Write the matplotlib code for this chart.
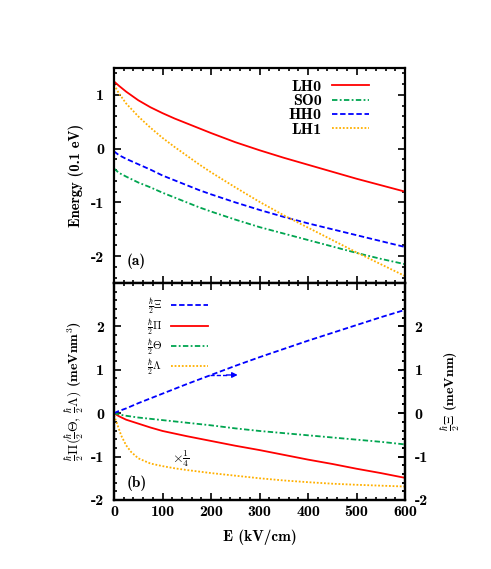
import matplotlib
matplotlib.use('Agg')
import matplotlib.pyplot as plt
from matplotlib.ticker import MultipleLocator

# Font setup (Computer Modern bold look)
plt.rcParams['font.family'] = ['cmb10', 'DejaVu Serif']
plt.rcParams['mathtext.fontset'] = 'cm'
plt.rcParams['axes.unicode_minus'] = False
plt.rcParams['font.size'] = 10

# ---- Panel (a): subband energies (0.1 eV) ----
field_a = [0, 10, 25, 50, 75, 100, 125, 150, 175, 200, 250, 300, 350, 400, 450, 500, 550, 600]
lh0 = [1.25, 1.17, 1.06, 0.90, 0.77, 0.66, 0.56, 0.47, 0.38, 0.29, 0.12, -0.03, -0.17, -0.30, -0.43, -0.56, -0.68, -0.80]
so0 = [-0.37, -0.45, -0.52, -0.63, -0.72, -0.82, -0.91, -1.00, -1.09, -1.17, -1.32, -1.46, -1.58, -1.70, -1.82, -1.94, -2.05, -2.15]
hh0 = [-0.05, -0.12, -0.19, -0.29, -0.39, -0.50, -0.59, -0.68, -0.77, -0.85, -1.00, -1.14, -1.27, -1.39, -1.50, -1.61, -1.72, -1.83]
lh1 = [1.19, 1.03, 0.84, 0.60, 0.39, 0.20, 0.03, -0.13, -0.29, -0.44, -0.72, -0.99, -1.24, -1.47, -1.70, -1.93, -2.15, -2.37]
labels_a = ['LH0', 'SO0', 'HH0', 'LH1']

# ---- Panel (b): coupling parameters ----
field_b = [0, 10, 25, 50, 75, 100, 150, 200, 250, 300, 350, 400, 450, 500, 550, 600]
xi = [0.0, 0.05, 0.11, 0.23, 0.34, 0.45, 0.67, 0.88, 1.09, 1.29, 1.48, 1.67, 1.85, 2.03, 2.21, 2.38]
pi_ = [0.0, -0.07, -0.15, -0.24, -0.33, -0.41, -0.53, -0.64, -0.75, -0.85, -0.96, -1.07, -1.17, -1.28, -1.38, -1.49]
theta = [0.0, -0.03, -0.06, -0.10, -0.13, -0.16, -0.22, -0.28, -0.35, -0.41, -0.46, -0.51, -0.56, -0.61, -0.66, -0.72]
field_lam = [0, 5, 10, 15, 25, 35, 50, 75, 100, 125, 150, 200, 250, 300, 350, 400, 450, 500, 550, 600]
lam = [-0.05, -0.20, -0.36, -0.52, -0.74, -0.89, -1.04, -1.16, -1.22, -1.27, -1.31, -1.38, -1.44, -1.50,
       -1.55, -1.59, -1.625, -1.65, -1.67, -1.69]
labels_b = [r'$\frac{\hbar}{2}\Xi$', r'$\frac{\hbar}{2}\Pi$', r'$\frac{\hbar}{2}\Theta$', r'$\frac{\hbar}{2}\Lambda$']

c_red, c_green, c_blue, c_orange = '#ff0000', '#00a550', '#0000ff', '#ffb000'
lw = 1.3
ls_dash = (0, (3, 1.5))
ls_dashdot = (0, (3, 1.3, 1, 1.3))
ls_dot = (0, (1, 1))

fig = plt.figure(figsize=(4.91, 5.69), dpi=100)
ax1 = fig.add_axes([0.2322, 0.5026, 0.5927, 0.3779])
ax2 = fig.add_axes([0.2322, 0.1213, 0.5927, 0.3814])


def style_axis(ax):
    for s in ax.spines.values():
        s.set_linewidth(1.6)
    ax.xaxis.set_major_locator(MultipleLocator(100))
    ax.xaxis.set_minor_locator(MultipleLocator(20))
    ax.yaxis.set_major_locator(MultipleLocator(1))
    ax.yaxis.set_minor_locator(MultipleLocator(0.2))
    ax.tick_params(which='both', direction='in', top=True, right=True, width=1.2,
                   labelsize=11.5)
    ax.tick_params(axis='y', pad=7)
    ax.tick_params(which='major', length=5)
    ax.tick_params(which='minor', length=2.5)


# Panel (a)
ax1.plot(field_a, lh0, color=c_red, lw=lw, ls='-', label=labels_a[0])
ax1.plot(field_a, so0, color=c_green, lw=lw, ls=ls_dashdot, label=labels_a[1])
ax1.plot(field_a, hh0, color=c_blue, lw=lw, ls=ls_dash, label=labels_a[2])
ax1.plot(field_a, lh1, color=c_orange, lw=lw, ls=ls_dot, label=labels_a[3])
ax1.set_xlim(0, 600)
ax1.set_ylim(-2.5, 1.5)
style_axis(ax1)
ax1.tick_params(labelbottom=False)
ax1.set_ylabel('Energy (0.1 eV)', fontsize=10.5, labelpad=5)
ax1.text(25, -2.1, '(a)', fontsize=11, va='center')
leg1 = ax1.legend(loc='upper right', bbox_to_anchor=(0.876, 0.945), frameon=False,
                  markerfirst=False, fontsize=11.5, handlelength=2.3, handletextpad=0.65,
                  labelspacing=0.0, borderpad=0, borderaxespad=0)

# Panel (b), right axis for Xi
ax3 = ax2.twinx()
h_xi, = ax3.plot(field_b, xi, color=c_blue, lw=lw, ls=ls_dash, label=labels_b[0])
h_pi, = ax2.plot(field_b, pi_, color=c_red, lw=lw, ls='-', label=labels_b[1])
h_th, = ax2.plot(field_b, theta, color=c_green, lw=lw, ls=ls_dashdot, label=labels_b[2])
h_la, = ax2.plot(field_lam, lam, color=c_orange, lw=lw, ls=ls_dot, label=labels_b[3])
for ax in (ax2, ax3):
    ax.set_xlim(0, 600)
    ax.set_ylim(-2, 3)
    style_axis(ax)
ax2.set_yticks([-2, -1, 0, 1, 2])
ax3.set_yticks([-2, -1, 0, 1, 2])
ax2.set_xlabel('E (kV/cm)', fontsize=11, labelpad=8)
ax2.set_ylabel(r'$\frac{\hbar}{2}\Pi(\frac{\hbar}{2}\Theta,\, \frac{\hbar}{2}\Lambda)$ (meVnm$^3$)',
               fontsize=10, labelpad=3)
ax3.set_ylabel(r'$\frac{\hbar}{2}\Xi$ (meVnm)', fontsize=10, rotation=90, labelpad=8)
ax2.text(25, -1.62, '(b)', fontsize=11, va='center')
ax2.text(120, -1.05, r'$\times\frac{1}{4}$', fontsize=10, va='center')

# arrow: Xi belongs to the right axis
ax3.plot([197, 235], [0.88, 0.88], color=c_blue, lw=1.0, ls=ls_dash)
ax3.annotate('', xy=(255, 0.88), xytext=(232, 0.88),
             arrowprops=dict(arrowstyle='-|>', color=c_blue, lw=1.0,
                             mutation_scale=8, shrinkA=0, shrinkB=0))

leg2 = ax3.legend([h_xi, h_pi, h_th, h_la], labels_b, loc='upper right',
                  bbox_to_anchor=(0.323, 0.935), frameon=False, markerfirst=False,
                  fontsize=8, handlelength=3.3, handletextpad=0.85, labelspacing=0.0,
                  borderpad=0, borderaxespad=0)

fig.savefig('out.png', dpi=100)
